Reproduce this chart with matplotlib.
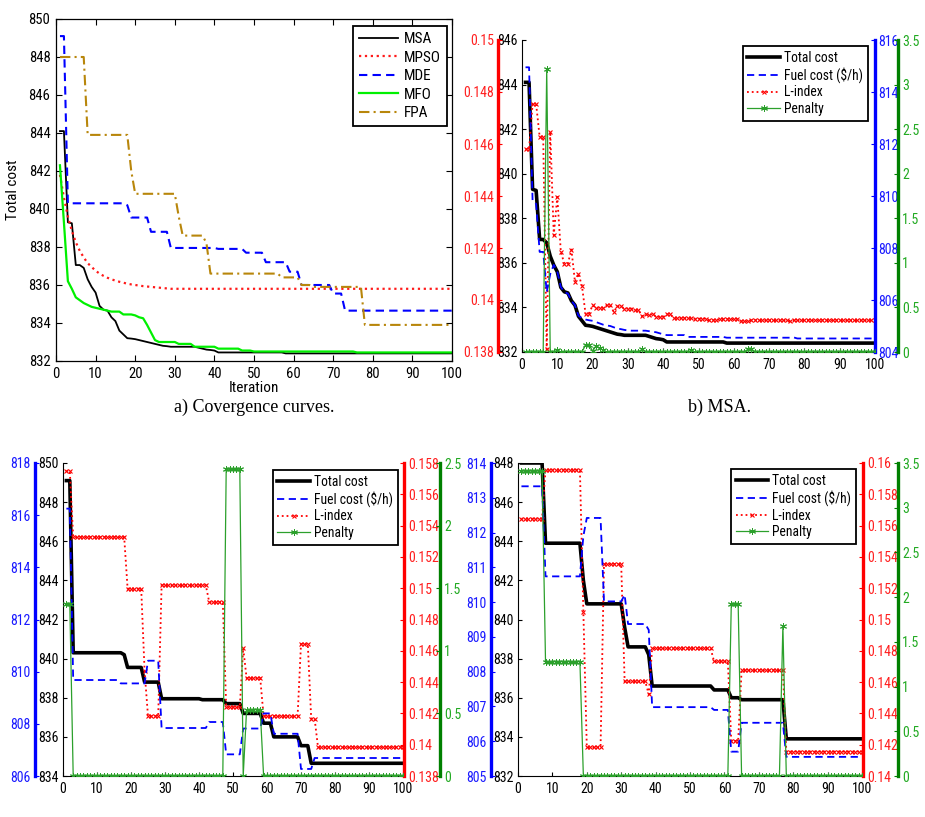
import matplotlib
matplotlib.use('Agg')
import matplotlib.pyplot as plt
from matplotlib import font_manager

_names = {f.name for f in font_manager.fontManager.ttflist}
SANS = ['Liberation Sans', 'DejaVu Sans']
FS = 0.9
for cand in ['Liberation Sans Narrow', 'Arial Narrow', 'Roboto Condensed', 'Open Sans Condensed']:
    if cand in _names:
        SANS = [cand, 'DejaVu Sans']
        FS = 1.0
        break
plt.rcParams['font.family'] = SANS
plt.rcParams['font.size'] = 10 * FS

# ---------------- data ----------------
iters = list(range(1, 101))

# panel a (convergence curves)
msa = ([844.1, 844.1, 839.3, 839.25, 837.05, 837.05, 836.9, 836.3, 835.9, 835.6,
        834.9, 834.7, 834.65, 834.3, 834.1, 833.6, 833.4, 833.2, 833.18, 833.15,
        833.1, 833.05, 833.0, 832.95, 832.9, 832.85, 832.8, 832.78]
       + [832.75] * 7 + [832.7, 832.65, 832.6, 832.58, 832.55]
       + [832.45] * 17 + [832.4] * 43)
mpso = ([841.8, 840.6, 839.6, 838.85, 838.25, 837.8, 837.45, 837.15, 836.95, 836.75,
         836.6, 836.48, 836.38, 836.3, 836.23, 836.17, 836.12, 836.07, 836.03, 836.0,
         835.97, 835.94, 835.92, 835.9, 835.88, 835.86, 835.84, 835.82]
        + [835.8] * 72)
mde = ([849.1] * 2 + [840.3] * 15 + [840.2] + [839.55] * 5 + [838.8] * 5
       + [837.95] * 12 + [837.9] * 7 + [837.7] * 5 + [837.2] * 6 + [836.7] * 3
       + [836.0] * 8 + [835.55] * 3 + [834.65] * 28)
mfo = ([842.3, 839.3, 836.2, 835.8, 835.35, 835.2, 835.05, 834.95, 834.85, 834.8,
        834.75, 834.7, 834.65, 834.6, 834.6, 834.6, 834.45, 834.45, 834.45, 834.4,
        834.3, 834.25, 833.9, 833.5, 833.1]
       + [833.0] * 5 + [832.9] * 4 + [832.75] * 6 + [832.65] * 6 + [832.55] * 3
       + [832.5] * 26 + [832.45] * 25)
fpa = ([848.0] * 7 + [843.9] * 11 + [842.0] + [840.8] * 11 + [839.6] + [838.6] * 6
       + [838.2] + [836.6] * 18 + [836.4] * 5 + [836.0] * 3 + [835.9] * 13 + [833.9] * 23)

# panel b (MSA)
total_b = msa
fuel_b = ([814.95, 814.95, 809.8, 809.7, 807.85, 807.85, 806.3, 807.0, 807.35, 807.1,
           806.5, 806.3, 806.25, 805.97, 805.8, 805.4, 805.3, 805.25, 805.22, 805.2,
           805.15, 805.1, 805.05, 805.02, 805.0, 804.95, 804.9, 804.88, 804.85, 804.83]
          + [804.82] * 5 + [804.8, 804.78, 804.76, 804.72, 804.68]
          + [804.65] * 6 + [804.58] * 11 + [804.55] * 19 + [804.56] + [804.52] * 23)
lidx_b = ([0.1458, 0.1458, 0.14754, 0.14754, 0.14628, 0.14628, 0.1381, 0.14647, 0.14249, 0.14397,
           0.14185, 0.1414, 0.1414, 0.14194, 0.1407, 0.14101, 0.14053, 0.13947, 0.13947, 0.1398,
           0.1397, 0.1397, 0.1397, 0.1398, 0.1398, 0.13954, 0.13976, 0.13976, 0.13967, 0.13967,
           0.13967, 0.13962, 0.13962, 0.13937, 0.13945, 0.13941, 0.13948, 0.13935, 0.13935, 0.13935,
           0.13945, 0.13945]
          + [0.13931] * 6 + [0.13928] * 4 + [0.13922] * 3 + [0.13926] * 6 + [0.13918] * 3
          + [0.13922] * 11 + [0.13918] + [0.13922] * 24)
pen_b = ([0] * 6 + [3.17] + [0, 0, 0.02] + [0] * 7 + [0.08, 0.08, 0.01, 0.07, 0.04, 0.02]
         + [0] * 10 + [0.03] + [0] * 13 + [0.02] + [0] * 15 + [0.03, 0.03] + [0] * 35)

# panel c (MDE)
total_c = mde
fuel_c = ([816.25] * 2 + [809.68] * 14 + [809.55] * 8 + [810.42] * 4 + [807.84] * 14
          + [808.07] * 5 + [806.83] * 5 + [807.82] * 6 + [808.4] * 3 + [807.62] * 8
          + [806.27] * 4 + [806.69] * 27)
lidx_c = ([0.1575] * 2 + [0.15326] * 16 + [0.14997] * 5 + [0.1447] + [0.14182] * 4
          + [0.15019] * 14 + [0.14912] * 5 + [0.1424] * 5 + [0.14616] + [0.14426] * 5
          + [0.14183] * 11 + [0.14643] * 3 + [0.14167] * 2 + [0.13984] * 26)
pen_c = [1.37] * 2 + [0] * 45 + [2.45] * 5 + [0] + [0.53] * 5 + [0] * 42

# panel d (FPA)
total_d = fpa
fuel_d = ([813.33] * 7 + [810.74] * 11 + [811.9] + [812.42] * 5 + [810.02] * 6 + [810.21]
          + [809.37] * 6 + [809.2] + [806.98] * 18 + [806.9] * 5 + [805.7] * 3
          + [806.53] * 13 + [805.55] * 23)
lidx_d = ([0.15644] * 7 + [0.15957] * 11 + [0.1505] + [0.14183] * 5 + [0.15354] * 6
          + [0.14604] * 7 + [0.14523] + [0.14815] * 18 + [0.14732] * 5 + [0.14224] * 3
          + [0.14676] * 13 + [0.14156] * 23)
pen_d = [3.41] * 7 + [1.28] * 11 + [0] * 43 + [1.92] * 3 + [0] * 12 + [1.68] + [0] * 23

xticks = list(range(0, 101, 10))

# ---------------- figure ----------------
W, H = 925, 817
fig = plt.figure(figsize=(W / 100, H / 100), dpi=100)


def ax_px(l, t, r, b):
    return fig.add_axes([l / W, 1 - b / H, (r - l) / W, (b - t) / H])


def fmt(v):
    return f"{v:g}"


GREEN_SPINE = '#008000'
GREEN_LBL = '#22aa22'
GREEN_LINE = '#2ca02c'
SERIF = ['Liberation Serif', 'DejaVu Serif']
TICK_FS = 10 * FS

# ---------- panel a ----------
axA = ax_px(56, 19, 452, 361)
axA.plot(iters, msa, color='k', lw=1.3, label='MSA')
axA.plot(iters, mpso, color='#ff1a1a', ls=':', lw=1.6, label='MPSO')
axA.plot(iters, mde, color='#0000ff', ls=(0, (4, 2.5)), lw=1.5, label='MDE')
axA.plot(iters, mfo, color='#00f000', lw=1.6, label='MFO')
axA.plot(iters, fpa, color='#b8860b', ls=(0, (5, 2, 1, 2)), lw=1.5, label='FPA')
axA.set_xlim(0, 100)
axA.set_ylim(832, 850)
axA.set_xticks(xticks)
axA.set_yticks(list(range(832, 851, 2)))
axA.tick_params(direction='in', top=True, right=True, length=4, labelsize=10.5 * FS, pad=4)
axA.set_xlabel('Iteration', fontsize=11 * FS)
axA.xaxis.set_label_coords(0.5, -(381 - 361) / 342)
axA.set_ylabel('Total cost', fontsize=11 * FS)
axA.yaxis.set_label_coords(-(56 - 20) / 396, 0.5)
for s in axA.spines.values():
    s.set_linewidth(0.9)
legA = axA.legend(loc='upper right', bbox_to_anchor=(0.987, 0.98), borderaxespad=0,
                  fancybox=False, edgecolor='k', fontsize=11 * FS, handlelength=2.5,
                  handletextpad=0.4, framealpha=1, labelspacing=0.3, borderpad=0.4)
legA.get_frame().set_linewidth(1.3)

fig.text(254 / W, 1 - 407 / H, 'a) Covergence curves.', ha='center', va='center',
         family=SERIF, fontsize=13)
fig.text(720 / W, 1 - 407 / H, 'b) MSA.', ha='center', va='center',
         family=SERIF, fontsize=13)


def extra_axis(host, side, offset_px, color, lblcolor, ylim, ticks, pad=3):
    ax = host.twinx()
    for s in ax.spines.values():
        s.set_visible(False)
    sp = ax.spines[side]
    sp.set_visible(True)
    sp.set_position(('outward', offset_px * 0.72))
    sp.set_color(color)
    sp.set_linewidth(2.4)
    if side == 'left':
        ax.yaxis.tick_left()
    else:
        ax.yaxis.tick_right()
    ax.set_ylim(ylim)
    ax.set_yticks(ticks)
    ax.set_yticklabels([fmt(t) for t in ticks])
    ax.tick_params(axis='y', direction='in', color=color, labelcolor=lblcolor,
                   length=3, labelsize=TICK_FS, pad=pad, width=0.8)
    return ax


def multi_panel(rect, total, fuel, lidx, pen, blim, bticks, bluelim, blueticks, blue_side,
                blue_off, redlim, redticks, red_side, red_off, greenlim, greenticks, green_off,
                leg_anchor, lidx_ms, blue_pad=3):
    host = ax_px(*rect)
    host.spines['top'].set_visible(False)
    host.spines['right'].set_visible(False)
    host.spines['left'].set_linewidth(0.8)
    host.spines['bottom'].set_linewidth(0.8)
    host.set_xlim(0, 100)
    host.set_ylim(blim)
    host.set_xticks(xticks)
    host.set_yticks(bticks)
    host.set_yticklabels([fmt(t) for t in bticks])
    host.tick_params(axis='y', direction='in', length=3, labelsize=TICK_FS, pad=3)
    host.tick_params(axis='x', direction='in', length=3, labelsize=TICK_FS, pad=4.5)

    ax_red = extra_axis(host, red_side, red_off, '#ff0000', '#ff2020', redlim, redticks)
    ax_blue = extra_axis(host, blue_side, blue_off, '#0000ff', '#1a1aff', bluelim, blueticks,
                         pad=blue_pad)
    ax_green = extra_axis(host, 'right', green_off, GREEN_SPINE, GREEN_LBL, greenlim, greenticks)

    l_tot, = host.plot(iters, total, color='k', lw=2.6, label='Total cost')
    l_fuel, = ax_blue.plot(iters, fuel, color='#0000ff', ls=(0, (4, 2.5)), lw=1.3,
                           label='Fuel cost ($/h)')
    l_lid, = ax_red.plot(iters, lidx, color='#ff0000', ls=':', lw=1.3, marker='x',
                         ms=lidx_ms, mew=0.8, label='L-index')
    l_pen, = ax_green.plot(iters, pen, color=GREEN_LINE, lw=0.9, marker=(6, 2, 0),
                           ms=5, mew=0.7, label='Penalty')
    ax_green.set_xlim(0, 100)
    leg = ax_green.legend([l_tot, l_fuel, l_lid, l_pen],
                          ['Total cost', r'Fuel cost (\$/h)', 'L-index', 'Penalty'],
                          loc='upper right', bbox_to_anchor=leg_anchor, borderaxespad=0,
                          fancybox=False, edgecolor='k', fontsize=9.8 * FS,
                          handlelength=2.4, handletextpad=0.3,
                          framealpha=1, labelspacing=0.18, borderpad=0.35, numpoints=1)
    leg.get_frame().set_linewidth(1.3)
    return host


# ---------- panel b ----------
multi_panel((522, 40, 875, 352), total_b, fuel_b, lidx_b, pen_b,
            (832, 846), list(range(832, 847, 2)),
            (804, 816), list(range(804, 817, 2)), 'right', 0,
            (0.138, 0.150), [0.138, 0.14, 0.142, 0.144, 0.146, 0.148, 0.15], 'left', 24,
            (0, 3.5), [0, 0.5, 1, 1.5, 2, 2.5, 3, 3.5], 23,
            (0.98, 0.981), 3.2, blue_pad=2)

# ---------- panel c ----------
multi_panel((63, 463, 403, 776), total_c, fuel_c, lidx_c, pen_c,
            (834, 850), list(range(834, 851, 2)),
            (806, 818), list(range(806, 819, 2)), 'left', 28,
            (0.138, 0.158), [0.138, 0.14, 0.142, 0.144, 0.146, 0.148, 0.15, 0.152, 0.154, 0.156, 0.158],
            'right', 1,
            (0, 2.5), [0, 0.5, 1, 1.5, 2, 2.5], 37,
            (0.985, 0.978), 2.2)

# ---------- panel d ----------
multi_panel((518, 463, 862, 776), total_d, fuel_d, lidx_d, pen_d,
            (832, 848), list(range(832, 849, 2)),
            (805, 814), list(range(805, 815, 1)), 'left', 27,
            (0.14, 0.16), [0.14, 0.142, 0.144, 0.146, 0.148, 0.15, 0.152, 0.154, 0.156, 0.158, 0.16],
            'right', 1,
            (0, 3.5), [0, 0.5, 1, 1.5, 2, 2.5, 3, 3.5], 36,
            (0.983, 0.981), 2.2)

fig.savefig('out.png', dpi=100)
